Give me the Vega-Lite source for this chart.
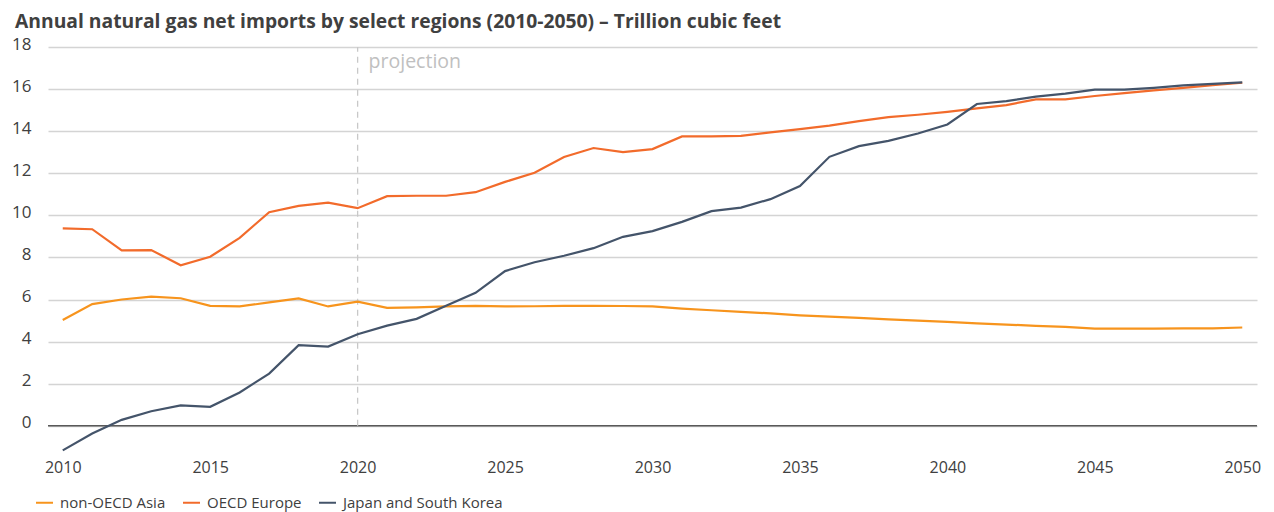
{
  "$schema": "https://vega.github.io/schema/vega-lite/v6.json",
  "width": 1209,
  "height": 404,
  "autosize": {"type": "none"},
  "padding": {"left": 48, "top": 47, "right": 17, "bottom": 61},
  "background": "white",
  "config": {
    "font": "Open Sans",
    "view": {"stroke": null}
  },
  "title": {
    "text": "Annual natural gas net imports by select regions (2010-2050) – Trillion cubic feet",
    "anchor": "start",
    "frame": "group",
    "dx": -33,
    "offset": 3,
    "fontSize": 19.3,
    "fontWeight": "bold",
    "color": "#404040",
    "font": "Open Sans"
  },
  "datasets": {
    "imports": [
      {"year": 2010, "region": "non-OECD Asia", "value": 5.03},
      {"year": 2011, "region": "non-OECD Asia", "value": 5.78},
      {"year": 2012, "region": "non-OECD Asia", "value": 6.0},
      {"year": 2013, "region": "non-OECD Asia", "value": 6.14},
      {"year": 2014, "region": "non-OECD Asia", "value": 6.06},
      {"year": 2015, "region": "non-OECD Asia", "value": 5.7},
      {"year": 2016, "region": "non-OECD Asia", "value": 5.67},
      {"year": 2017, "region": "non-OECD Asia", "value": 5.86},
      {"year": 2018, "region": "non-OECD Asia", "value": 6.05},
      {"year": 2019, "region": "non-OECD Asia", "value": 5.67},
      {"year": 2020, "region": "non-OECD Asia", "value": 5.9},
      {"year": 2021, "region": "non-OECD Asia", "value": 5.6},
      {"year": 2022, "region": "non-OECD Asia", "value": 5.63},
      {"year": 2023, "region": "non-OECD Asia", "value": 5.67},
      {"year": 2024, "region": "non-OECD Asia", "value": 5.7},
      {"year": 2025, "region": "non-OECD Asia", "value": 5.67},
      {"year": 2026, "region": "non-OECD Asia", "value": 5.68},
      {"year": 2027, "region": "non-OECD Asia", "value": 5.7},
      {"year": 2028, "region": "non-OECD Asia", "value": 5.7},
      {"year": 2029, "region": "non-OECD Asia", "value": 5.69},
      {"year": 2030, "region": "non-OECD Asia", "value": 5.67},
      {"year": 2031, "region": "non-OECD Asia", "value": 5.57},
      {"year": 2032, "region": "non-OECD Asia", "value": 5.49},
      {"year": 2033, "region": "non-OECD Asia", "value": 5.41},
      {"year": 2034, "region": "non-OECD Asia", "value": 5.34},
      {"year": 2035, "region": "non-OECD Asia", "value": 5.25},
      {"year": 2036, "region": "non-OECD Asia", "value": 5.19},
      {"year": 2037, "region": "non-OECD Asia", "value": 5.13},
      {"year": 2038, "region": "non-OECD Asia", "value": 5.06},
      {"year": 2039, "region": "non-OECD Asia", "value": 5.0},
      {"year": 2040, "region": "non-OECD Asia", "value": 4.94},
      {"year": 2041, "region": "non-OECD Asia", "value": 4.87},
      {"year": 2042, "region": "non-OECD Asia", "value": 4.81},
      {"year": 2043, "region": "non-OECD Asia", "value": 4.75},
      {"year": 2044, "region": "non-OECD Asia", "value": 4.7},
      {"year": 2045, "region": "non-OECD Asia", "value": 4.62},
      {"year": 2046, "region": "non-OECD Asia", "value": 4.62},
      {"year": 2047, "region": "non-OECD Asia", "value": 4.62},
      {"year": 2048, "region": "non-OECD Asia", "value": 4.63},
      {"year": 2049, "region": "non-OECD Asia", "value": 4.63},
      {"year": 2050, "region": "non-OECD Asia", "value": 4.67},
      {"year": 2010, "region": "OECD Europe", "value": 9.38},
      {"year": 2011, "region": "OECD Europe", "value": 9.34},
      {"year": 2012, "region": "OECD Europe", "value": 8.33},
      {"year": 2013, "region": "OECD Europe", "value": 8.35},
      {"year": 2014, "region": "OECD Europe", "value": 7.63},
      {"year": 2015, "region": "OECD Europe", "value": 8.03},
      {"year": 2016, "region": "OECD Europe", "value": 8.93},
      {"year": 2017, "region": "OECD Europe", "value": 10.15},
      {"year": 2018, "region": "OECD Europe", "value": 10.45},
      {"year": 2019, "region": "OECD Europe", "value": 10.6},
      {"year": 2020, "region": "OECD Europe", "value": 10.34},
      {"year": 2021, "region": "OECD Europe", "value": 10.91},
      {"year": 2022, "region": "OECD Europe", "value": 10.93},
      {"year": 2023, "region": "OECD Europe", "value": 10.93},
      {"year": 2024, "region": "OECD Europe", "value": 11.1},
      {"year": 2025, "region": "OECD Europe", "value": 11.59},
      {"year": 2026, "region": "OECD Europe", "value": 12.02},
      {"year": 2027, "region": "OECD Europe", "value": 12.77},
      {"year": 2028, "region": "OECD Europe", "value": 13.2},
      {"year": 2029, "region": "OECD Europe", "value": 13.0},
      {"year": 2030, "region": "OECD Europe", "value": 13.15},
      {"year": 2031, "region": "OECD Europe", "value": 13.75},
      {"year": 2032, "region": "OECD Europe", "value": 13.75},
      {"year": 2033, "region": "OECD Europe", "value": 13.78},
      {"year": 2034, "region": "OECD Europe", "value": 13.94},
      {"year": 2035, "region": "OECD Europe", "value": 14.1},
      {"year": 2036, "region": "OECD Europe", "value": 14.26},
      {"year": 2037, "region": "OECD Europe", "value": 14.48},
      {"year": 2038, "region": "OECD Europe", "value": 14.67},
      {"year": 2039, "region": "OECD Europe", "value": 14.78},
      {"year": 2040, "region": "OECD Europe", "value": 14.92},
      {"year": 2041, "region": "OECD Europe", "value": 15.08},
      {"year": 2042, "region": "OECD Europe", "value": 15.24},
      {"year": 2043, "region": "OECD Europe", "value": 15.51},
      {"year": 2044, "region": "OECD Europe", "value": 15.51},
      {"year": 2045, "region": "OECD Europe", "value": 15.67},
      {"year": 2046, "region": "OECD Europe", "value": 15.81},
      {"year": 2047, "region": "OECD Europe", "value": 15.94},
      {"year": 2048, "region": "OECD Europe", "value": 16.06},
      {"year": 2049, "region": "OECD Europe", "value": 16.19},
      {"year": 2050, "region": "OECD Europe", "value": 16.3},
      {"year": 2010, "region": "Japan and South Korea", "value": -1.17},
      {"year": 2011, "region": "Japan and South Korea", "value": -0.37},
      {"year": 2012, "region": "Japan and South Korea", "value": 0.28},
      {"year": 2013, "region": "Japan and South Korea", "value": 0.69},
      {"year": 2014, "region": "Japan and South Korea", "value": 0.97},
      {"year": 2015, "region": "Japan and South Korea", "value": 0.9},
      {"year": 2016, "region": "Japan and South Korea", "value": 1.58},
      {"year": 2017, "region": "Japan and South Korea", "value": 2.48},
      {"year": 2018, "region": "Japan and South Korea", "value": 3.83},
      {"year": 2019, "region": "Japan and South Korea", "value": 3.76},
      {"year": 2020, "region": "Japan and South Korea", "value": 4.35},
      {"year": 2021, "region": "Japan and South Korea", "value": 4.76},
      {"year": 2022, "region": "Japan and South Korea", "value": 5.08},
      {"year": 2023, "region": "Japan and South Korea", "value": 5.7},
      {"year": 2024, "region": "Japan and South Korea", "value": 6.32},
      {"year": 2025, "region": "Japan and South Korea", "value": 7.35},
      {"year": 2026, "region": "Japan and South Korea", "value": 7.77},
      {"year": 2027, "region": "Japan and South Korea", "value": 8.08},
      {"year": 2028, "region": "Japan and South Korea", "value": 8.44},
      {"year": 2029, "region": "Japan and South Korea", "value": 8.98},
      {"year": 2030, "region": "Japan and South Korea", "value": 9.25},
      {"year": 2031, "region": "Japan and South Korea", "value": 9.69},
      {"year": 2032, "region": "Japan and South Korea", "value": 10.2},
      {"year": 2033, "region": "Japan and South Korea", "value": 10.37},
      {"year": 2034, "region": "Japan and South Korea", "value": 10.77},
      {"year": 2035, "region": "Japan and South Korea", "value": 11.39},
      {"year": 2036, "region": "Japan and South Korea", "value": 12.78},
      {"year": 2037, "region": "Japan and South Korea", "value": 13.29},
      {"year": 2038, "region": "Japan and South Korea", "value": 13.54},
      {"year": 2039, "region": "Japan and South Korea", "value": 13.89},
      {"year": 2040, "region": "Japan and South Korea", "value": 14.32},
      {"year": 2041, "region": "Japan and South Korea", "value": 15.29},
      {"year": 2042, "region": "Japan and South Korea", "value": 15.43},
      {"year": 2043, "region": "Japan and South Korea", "value": 15.64},
      {"year": 2044, "region": "Japan and South Korea", "value": 15.78},
      {"year": 2045, "region": "Japan and South Korea", "value": 15.97},
      {"year": 2046, "region": "Japan and South Korea", "value": 15.97},
      {"year": 2047, "region": "Japan and South Korea", "value": 16.06},
      {"year": 2048, "region": "Japan and South Korea", "value": 16.18},
      {"year": 2049, "region": "Japan and South Korea", "value": 16.25},
      {"year": 2050, "region": "Japan and South Korea", "value": 16.32}
    ],
    "marker": [
      {"year": 2020, "from": 0, "to": 18, "label": "projection", "labelAt": 17.3}
    ]
  },
  "layer": [
    {
      "data": {"name": "marker"},
      "mark": {"type": "rule", "color": "#595959", "strokeWidth": 1.5},
      "encoding": {"y": {"field": "from", "type": "quantitative"}}
    },
    {
      "data": {"name": "marker"},
      "mark": {"type": "rule", "color": "#c8c8c8", "strokeWidth": 1.3, "strokeDash": [6, 5]},
      "encoding": {
        "x": {"field": "year", "type": "quantitative"},
        "y": {"field": "from", "type": "quantitative"},
        "y2": {"field": "to"}
      }
    },
    {
      "data": {"name": "marker"},
      "mark": {"type": "text", "align": "left", "baseline": "middle", "dx": 11, "fontSize": 19.5, "fill": "#c0c0c0", "font": "Open Sans"},
      "encoding": {
        "text": {"field": "label"},
        "x": {"field": "year", "type": "quantitative"},
        "y": {"field": "labelAt", "type": "quantitative"}
      }
    },
    {
      "data": {"name": "imports"},
      "mark": {"type": "line", "strokeWidth": 2.2},
      "encoding": {
        "x": {
          "field": "year",
          "type": "quantitative",
          "scale": {"domain": [2009.5, 2050.5], "nice": false, "zero": false},
          "axis": {
            "title": null,
            "values": [2010, 2015, 2020, 2025, 2030, 2035, 2040, 2045, 2050],
            "format": "d",
            "grid": false,
            "domain": false,
            "ticks": false,
            "labelPadding": 8,
            "labelFontSize": 16,
            "labelColor": "#404040",
            "labelFont": "Open Sans"
          }
        },
        "y": {
          "field": "value",
          "type": "quantitative",
          "scale": {"domain": [-1.2, 18], "nice": false, "zero": false},
          "axis": {
            "title": null,
            "values": [0, 2, 4, 6, 8, 10, 12, 14, 16, 18],
            "grid": true,
            "gridColor": "#d4d4d4",
            "gridWidth": 1.3,
            "domain": false,
            "ticks": false,
            "labelPadding": 17,
            "labelFontSize": 17,
            "labelColor": "#404040",
            "labelFont": "Open Sans",
            "labelOffset": -3
          }
        },
        "color": {
          "field": "region",
          "type": "nominal",
          "scale": {
            "domain": ["non-OECD Asia", "OECD Europe", "Japan and South Korea"],
            "range": ["#F7941D", "#F26B2B", "#44546A"]
          },
          "legend": {
            "title": null,
            "orient": "none",
            "direction": "horizontal",
            "legendX": -13,
            "legendY": 446,
            "symbolType": "stroke",
            "symbolSize": 289,
            "symbolStrokeWidth": 2,
            "labelFontSize": 15,
            "labelLimit": 0,
            "labelColor": "#404040",
            "labelFont": "Open Sans",
            "labelOffset": 6,
            "columnPadding": 13
          }
        }
      }
    }
  ]
}
